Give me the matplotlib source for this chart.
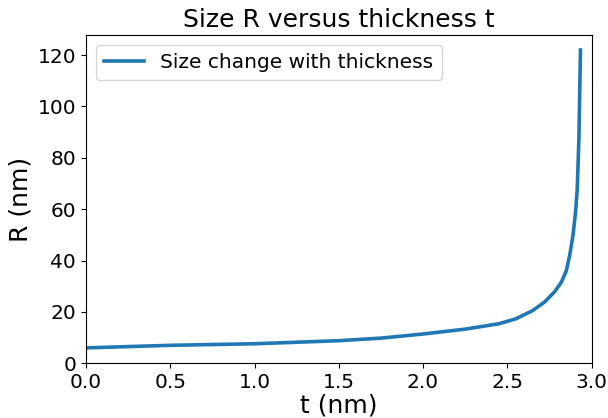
import matplotlib
matplotlib.use("Agg")
import matplotlib.pyplot as plt

# Shell thickness t (nm) and resulting particle size R (nm)
thickness_nm = [0.0, 0.25, 0.5, 0.75, 1.0, 1.25, 1.5, 1.75, 2.0, 2.25, 2.45,
                2.55, 2.65, 2.72, 2.78, 2.82, 2.85, 2.87, 2.89, 2.905, 2.915,
                2.925, 2.934]
size_nm = [6.0, 6.5, 7.0, 7.3, 7.6, 8.2, 8.8, 9.8, 11.4, 13.3, 15.4,
           17.3, 20.5, 23.8, 27.8, 31.5, 36.0, 42.0, 50.0, 59.0, 68.0,
           88.0, 122.0]

series_label = "Size change with thickness"
title = "Size R versus thickness t"
x_label = "t (nm)"
y_label = "R (nm)"

fig = plt.figure(figsize=(6.08, 4.18), dpi=100)
ax = fig.add_axes([0.1414, 0.1309, 0.8316, 0.7851])

ax.plot(thickness_nm, size_nm, color="#1f77b4", linewidth=2.6, label=series_label)
ax.set_xlim(0, 3.0)
ax.set_ylim(bottom=0)

ax.set_title(title, fontsize=18)
ax.set_xlabel(x_label, fontsize=18, labelpad=1)
ax.set_ylabel(y_label, fontsize=18)
ax.tick_params(labelsize=14.5)
ax.legend(loc="upper left", fontsize=14.5)

fig.savefig("out.png", dpi=100)
